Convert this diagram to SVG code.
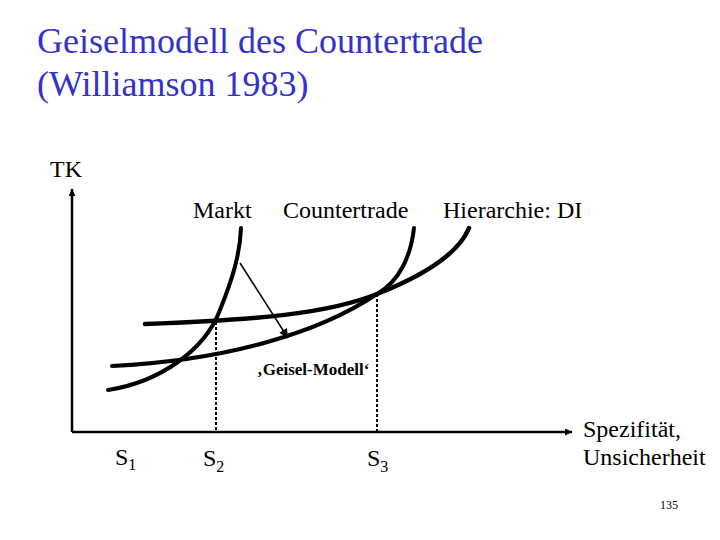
<svg xmlns="http://www.w3.org/2000/svg" width="720" height="540" viewBox="0 0 720 540">
<style>
text{font-family:'Liberation Serif','Times New Roman',Times,'Nimbus Roman','DejaVu Serif',serif;fill:#000}
.title{font-size:36px;fill:#3333CC}
.lbl{font-size:24px}
.sub{font-size:16px}
.curve{fill:none;stroke:#000;stroke-width:4;stroke-linecap:round}
.axis{fill:none;stroke:#000;stroke-width:2.5}
.dot{fill:none;stroke:#000;stroke-width:2;stroke-dasharray:3 2}
</style>
<defs>
<marker id="ah" viewBox="0 0 10 10" refX="10" refY="5" markerWidth="8" markerHeight="7" markerUnits="userSpaceOnUse" orient="auto">
<path d="M0,0 L10,5 L0,10 Z" fill="#000"/>
</marker>
<marker id="ah2" viewBox="0 0 10 10" refX="10" refY="5" markerWidth="12" markerHeight="9" markerUnits="userSpaceOnUse" orient="auto">
<path d="M0,0 L10,5 L0,10 Z" fill="#000"/>
</marker>
</defs>
<rect width="720" height="540" fill="#fff"/>
<g id="title" font-family="Liberation Serif, serif">
<text class="title" x="37" y="53">Geiselmodell des Countertrade</text>
<text class="title" x="37" y="96">(Williamson 1983)</text>
</g>
<g id="axes">
<line class="axis" x1="72" y1="432" x2="72" y2="189" marker-end="url(#ah)"/>
<line class="axis" x1="72" y1="432" x2="572" y2="432" marker-end="url(#ah)"/>
<text class="lbl" x="50" y="177">TK</text>
<text class="lbl" x="583" y="437">Spezifität,</text>
<text class="lbl" x="583" y="465">Unsicherheit</text>
</g>
<g id="markt">
<path class="curve" d="M108,390 C160,382 205,350 220,310 C232,280 240,255 241,228"/>
<text class="lbl" x="193" y="218">Markt</text>
</g>
<g id="countertrade">
<path class="curve" d="M112,366 C230,360 320,332 377,294 C400,281 411,255 414,228"/>
<text class="lbl" x="283" y="218">Countertrade</text>
</g>
<g id="hierarchie">
<path class="curve" style="stroke-width:4.5" d="M145,324 C260,320 330,313 377,294 C420,277 458,255 469,228"/>
<text class="lbl" x="443" y="218">Hierarchie: DI</text>
</g>
<g id="connectors">
<line class="dot" x1="216" y1="322" x2="216" y2="432"/>
<line class="dot" x1="377" y1="294" x2="377" y2="432"/>
<line x1="240" y1="263" x2="288" y2="338" stroke="#000" stroke-width="1.5" marker-end="url(#ah2)"/>
</g>
<g id="geisel">
<text x="257" y="375" style="font-size:17px;font-weight:bold">‚Geisel-Modell‘</text>
</g>
<g id="s-labels">
<text class="lbl" x="115" y="465">S<tspan class="sub" dy="5">1</tspan></text>
<text class="lbl" x="203" y="466">S<tspan class="sub" dy="6">2</tspan></text>
<text class="lbl" x="367" y="466">S<tspan class="sub" dy="6">3</tspan></text>
</g>
<text x="660" y="509" style="font-size:12px">135</text>
</svg>
